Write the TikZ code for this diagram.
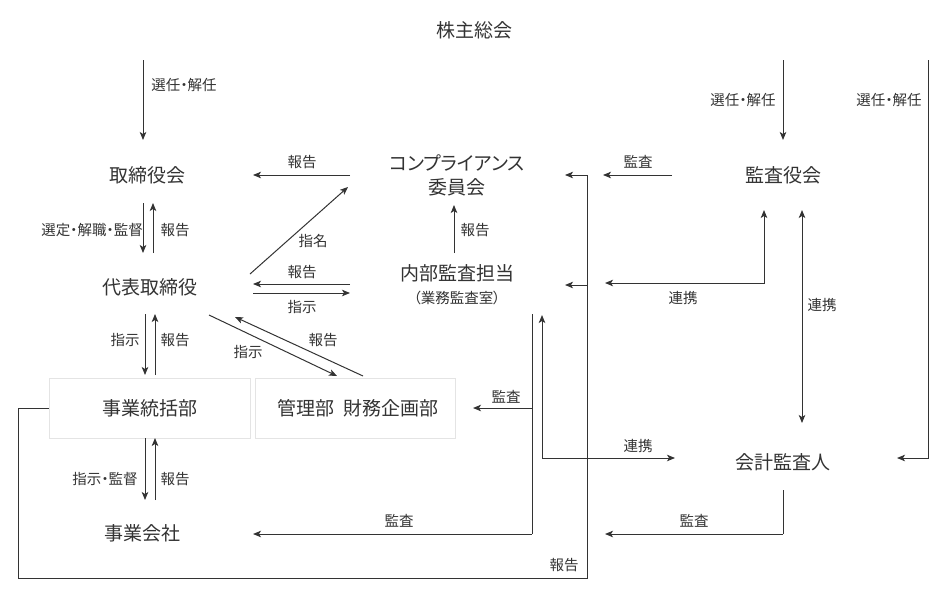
\documentclass[tikz,border=0pt]{standalone}
\usepackage{fontspec}
\setmainfont[RawFeature={+palt}]{Noto Sans CJK JP}
\usetikzlibrary{arrows.meta}
\definecolor{ink}{HTML}{333333}
\definecolor{boxline}{HTML}{E4E4E4}

\begin{document}
\begin{tikzpicture}[x=1pt, y=-1pt, >={Stealth[length=8pt,width=6.5pt,inset=2pt]},
  every node/.style={text=ink, inner sep=0pt},
  org/.style={font=\fontsize{19}{24}\selectfont, align=center},
  lbl/.style={font=\fontsize{14.5}{16}\selectfont},
  ln/.style={draw=ink, line width=1pt},
  arr/.style={ln, ->},
  dbl/.style={ln, <->},
  dept/.style={org, draw=boxline, line width=0.8pt, minimum height=60pt}]
  \useasboundingbox (0,0) rectangle (950,600);

  % bodies
  \node[org] (soukai) at (474,30) {株主総会};
  \node[org] (torishimari) at (147,175) {取締役会};
  \node[org] (comp) at (457,175) {コンプライアンス\\委員会};
  \node[org] (kansayaku) at (783,175) {監査役会};
  \node[org] (daihyo) at (150,287) {代表取締役};
  \node[org] (naibu) at (457,273) {内部監査担当};
  \node[lbl] (shitsu) at (457,298) {（業務監査室）};
  \node[dept, minimum width=201pt] (tokatsu) at (149.5,408) {事業統括部};
  \node[dept, minimum width=200pt] (kanri) at (355,408) {\hspace*{6pt}管理部\hspace{10pt}財務企画部};
  \node[org] (kaikei) at (783,462) {会計監査人};
  \node[org] (kaisha) at (142,533) {事業会社};

  % arrow ends
  \coordinate (selA) at (143,60);   \coordinate (selB) at (143,140);
  \coordinate (selC) at (783,60);   \coordinate (selD) at (783,140);
  \coordinate (selE) at (928,60);   \coordinate (selF) at (928,458);
  \coordinate (selG) at (897,458);
  \coordinate (rpTA) at (350,175);  \coordinate (rpTB) at (253,175);
  \coordinate (auCA) at (672,175);  \coordinate (auCB) at (603,175);
  \coordinate (tdA) at (143,203);   \coordinate (tdB) at (143,253);
  \coordinate (tdC) at (153,253);   \coordinate (tdD) at (153,203);
  \coordinate (nomA) at (250,274);  \coordinate (nomB) at (348,187);
  \coordinate (dnA) at (350,284);   \coordinate (dnB) at (253,284);
  \coordinate (dnC) at (253,293);   \coordinate (dnD) at (350,293);
  \coordinate (ncA) at (454,253);   \coordinate (ncB) at (454,205);
  \coordinate (lkNA) at (605,283);  \coordinate (lkNB) at (764,210);
  \coordinate (lkKA) at (802,210);  \coordinate (lkKB) at (802,423);
  \coordinate (dtA) at (145,314);   \coordinate (dtB) at (145,375);
  \coordinate (dtC) at (155,375);   \coordinate (dtD) at (155,314);
  \coordinate (dkA) at (209,315);   \coordinate (dkB) at (337,376);
  \coordinate (dkC) at (363,376);   \coordinate (dkD) at (235,317);
  \coordinate (auIA) at (532,314);  \coordinate (auIB) at (532,534);
  \coordinate (auIC) at (253,534);  \coordinate (auID) at (532,408);
  \coordinate (auIE) at (473,408);
  \coordinate (lkIA) at (542,315);  \coordinate (lkIB) at (675,458);
  \coordinate (tkA) at (145,438);   \coordinate (tkB) at (145,500);
  \coordinate (tkC) at (155,500);   \coordinate (tkD) at (155,438);
  \coordinate (auKA) at (783,490);  \coordinate (auKB) at (783,534);
  \coordinate (auKC) at (605,534);
  \coordinate (rpLA) at (18,578);   \coordinate (rpLB) at (587,578);
  \coordinate (rpLC) at (587,175);  \coordinate (rpLD) at (565,175);
  \coordinate (rpLE) at (587,285);  \coordinate (rpLF) at (565,285);

  % 株主総会 から
  \draw[arr] (selA) -- (selB);
  \node[lbl] (lSelTori) at (184,85) {選任・解任};
  \draw[arr] (selC) -- (selD);
  \node[lbl] (lSelKansa) at (743,100) {選任・解任};
  \draw[arr] (selE) -- (selF) -- (selG);
  \node[lbl] (lSelKaikei) at (889,100) {選任・解任};

  % 取締役会 / 代表取締役
  \draw[arr] (rpTA) -- (rpTB);
  \node[lbl] (lRpTori) at (302,162) {報告};
  \draw[arr] (tdA) -- (tdB);
  \draw[arr] (tdC) -- (tdD);
  \node[lbl] (lTdSel) at (92,230) {選定・解職・監督};
  \node[lbl] (lTdRp) at (175,230) {報告};
  \draw[arr] (nomA) -- (nomB);
  \node[lbl] (lNom) at (313,241) {指名};
  \draw[arr] (dnA) -- (dnB);
  \node[lbl] (lDnRp) at (302,272) {報告};
  \draw[arr] (dnC) -- (dnD);
  \node[lbl] (lDnSj) at (302,307) {指示};
  \draw[arr] (ncA) -- (ncB);
  \node[lbl] (lNcRp) at (475,230) {報告};

  % 監査役会
  \draw[arr] (auCA) -- (auCB);
  \node[lbl] (lAuC) at (638,162) {監査};
  \draw[dbl] (lkNA) -| (lkNB);
  \node[lbl] (lLkN) at (683,298) {連携};
  \draw[dbl] (lkKA) -- (lkKB);
  \node[lbl] (lLkK) at (822,305) {連携};

  % 代表取締役 から下
  \draw[arr] (dtA) -- (dtB);
  \draw[arr] (dtC) -- (dtD);
  \node[lbl] (lDtSj) at (125,340) {指示};
  \draw[arr] (dkA) -- (dkB);
  \node[lbl] (lDkSj) at (248,352) {指示};
  \draw[arr] (dkC) -- (dkD);
  \node[lbl] (lDkRp) at (323,340) {報告};
  \node[lbl] (lDtRp) at (175,340) {報告};

  % 内部監査担当
  \draw[ln] (auIA) -- (auIB);
  \draw[arr] (auIB) -- (auIC);
  \node[lbl] (lAuSha) at (399,521) {監査};
  \draw[arr] (auID) -- (auIE);
  \node[lbl] (lAuKanri) at (506,397) {監査};
  \draw[dbl] (lkIA) |- (lkIB);
  \node[lbl] (lLkI) at (638,446) {連携};

  % 事業統括部 / 事業会社
  \draw[arr] (tkA) -- (tkB);
  \draw[arr] (tkC) -- (tkD);
  \node[lbl] (lTkSj) at (105,479) {指示・監督};
  \node[lbl] (lTkRp) at (175,479) {報告};
  \draw[ln] (auKA) -- (auKB);
  \draw[arr] (auKB) -- (auKC);
  \node[lbl] (lAuK) at (694,521) {監査};

  % 報告ループ
  \draw[ln] (tokatsu.west) -| (rpLA) -- (rpLB) -- (rpLC);
  \draw[arr] (rpLC) -- (rpLD);
  \draw[arr] (rpLE) -- (rpLF);
  \node[lbl] (lRpL) at (564,565) {報告};
\end{tikzpicture}
\end{document}
